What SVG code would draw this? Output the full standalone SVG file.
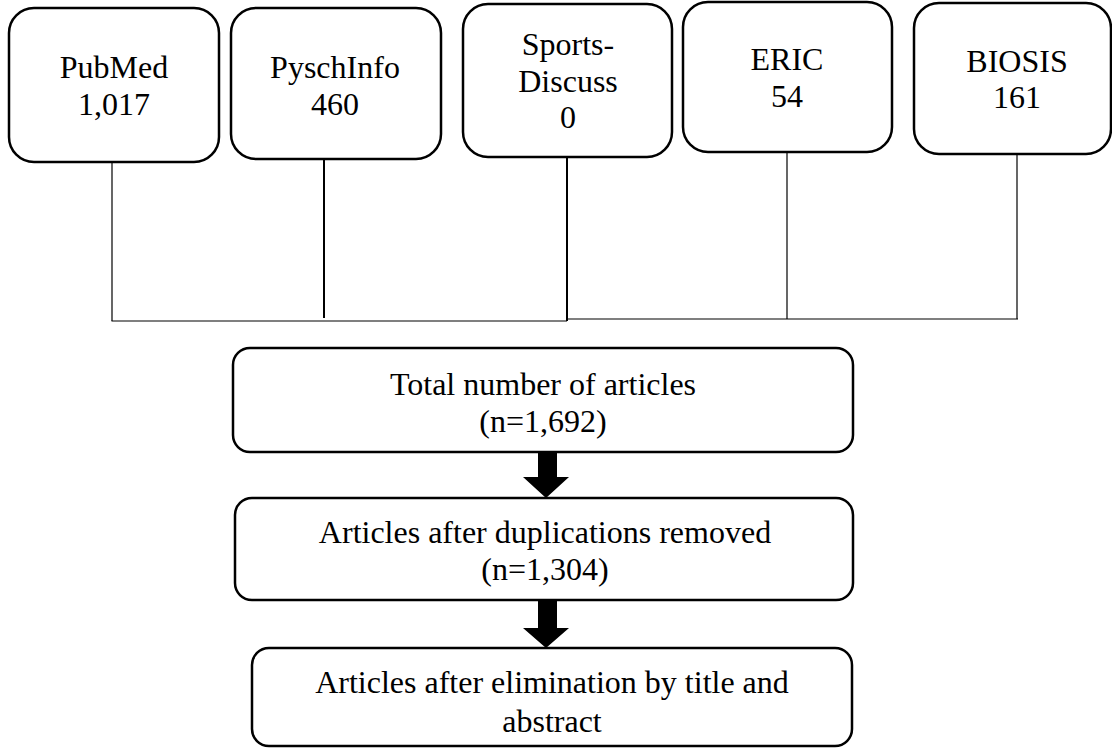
<svg xmlns="http://www.w3.org/2000/svg" width="1112" height="748" viewBox="0 0 1112 748">
<style>
.box{fill:#fff;stroke:#000;stroke-width:2.5}
.t{font-family:"Liberation Serif","Times New Roman",serif;font-size:32px;fill:#000;text-anchor:middle}
.thin{stroke:#000;stroke-width:1.2;fill:none}
.thick{stroke:#000;stroke-width:2;fill:none}
.arr{fill:#000}
</style>
<rect width="1112" height="748" fill="#fff"/>
<g id="connectors">
<line class="thin" x1="112" y1="163" x2="112" y2="321"/>
<line class="thin" x1="111.5" y1="321" x2="567" y2="321"/>
<line class="thick" x1="324" y1="160" x2="324" y2="318"/>
<line class="thick" x1="567" y1="157" x2="567" y2="321"/>
<line class="thin" x1="567" y1="319" x2="1018" y2="319"/>
<line class="thin" x1="787" y1="152" x2="787" y2="319"/>
<line class="thin" x1="1017" y1="154" x2="1017" y2="319"/>
<polygon class="arr" points="538,452 557,452 557,477 569,477 546,498 523,477 538,477"/>
<polygon class="arr" points="538,600 557,600 557,628 569,628 546,648 523,628 538,628"/>
</g>
<g id="pubmed">
<rect class="box" x="9" y="8" width="210" height="154" rx="25"/>
<text class="t" x="114" y="78">PubMed</text>
<text class="t" x="114" y="115">1,017</text>
</g>
<g id="pyschinfo">
<rect class="box" x="231" y="8" width="210" height="151" rx="25"/>
<text class="t" x="335" y="78">PyschInfo</text>
<text class="t" x="335" y="115">460</text>
</g>
<g id="sportsdiscuss">
<rect class="box" x="463" y="4" width="209" height="153" rx="25"/>
<text class="t" x="568" y="55">Sports-</text>
<text class="t" x="568" y="92">Discuss</text>
<text class="t" x="568" y="128">0</text>
</g>
<g id="eric">
<rect class="box" x="683" y="2" width="209" height="150" rx="25"/>
<text class="t" x="787" y="70">ERIC</text>
<text class="t" x="787" y="107">54</text>
</g>
<g id="biosis">
<rect class="box" x="914" y="3" width="197" height="151" rx="25"/>
<text class="t" x="1017" y="72">BIOSIS</text>
<text class="t" x="1017" y="108">161</text>
</g>
<g id="total">
<rect class="box" x="233" y="348" width="620" height="104" rx="17"/>
<text class="t" x="543" y="395">Total number of articles</text>
<text class="t" x="543" y="432">(n=1,692)</text>
</g>
<g id="dedup">
<rect class="box" x="235" y="498" width="618" height="102" rx="17"/>
<text class="t" x="545" y="543">Articles after duplications removed</text>
<text class="t" x="545" y="580">(n=1,304)</text>
</g>
<g id="screened">
<rect class="box" x="252" y="648" width="600" height="98" rx="17"/>
<text class="t" x="552" y="693">Articles after elimination by title and</text>
<text class="t" x="552" y="732">abstract</text>
</g>
</svg>
